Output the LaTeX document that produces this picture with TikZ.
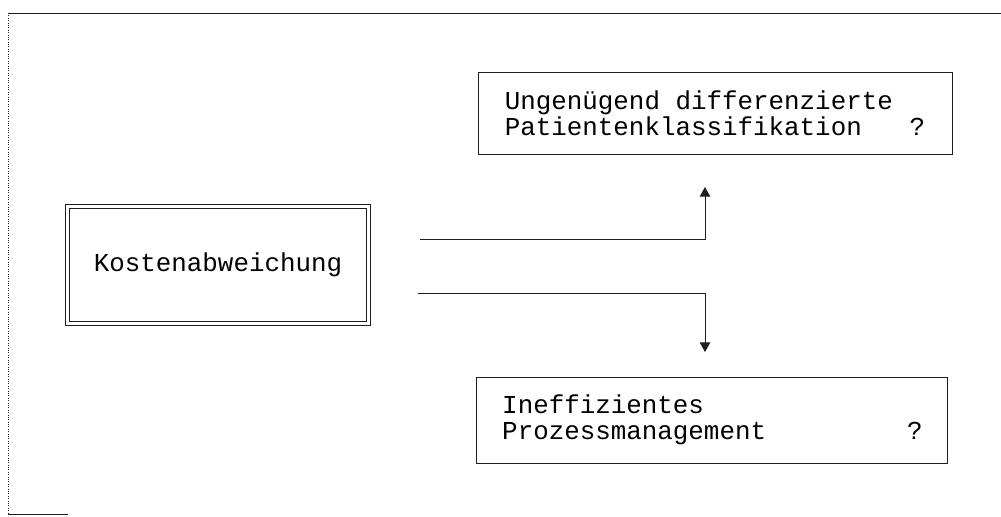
\documentclass[tikz,border=0pt]{standalone}
\usepackage{fontspec}
\setmonofont{Liberation Mono}
\usepackage{tikz}
\usetikzlibrary{arrows.meta}
\definecolor{ink}{RGB}{30,30,30}

\begin{document}
\begin{tikzpicture}[
  font=\ttfamily\fontsize{18.4}{18.8}\selectfont,
  box/.style={draw=ink, line width=0.7pt, align=left, inner sep=0pt},
  cause/.style={box, text width=299pt},
  arr/.style={-{Triangle[length=0.24cm,width=0.26cm]}, draw=ink, line width=0.7pt},
]
  \useasboundingbox (0,0) rectangle (25.025,-12.9);

  % Frame of the page
  \draw[ink, line width=0.6pt] (0.2,-0.325) -- (25.025,-0.325);
  \draw[ink, line width=0.7pt, densely dotted] (0.2,-0.325) -- (0.2,-12.85);
  \draw[ink, line width=0.6pt] (0.2,-12.85) -- (1.7,-12.85);

  % Boxes
  \node[box, double, double distance=1.6pt, minimum width=7.52cm, minimum height=2.92cm]
    (kosten) at (5.45,-6.625) {Kostenabweichung};
  \node[cause, minimum width=11.85cm, minimum height=2.05cm] (klass) at (17.875,-2.825)
    {Ungenügend\hspace{0.6em}differenzierte\\Patientenklassifikation\hfill?};
  \node[cause, minimum width=11.775cm, minimum height=2.15cm] (prozess) at (17.81,-10.5)
    {Ineffizientes\\Prozessmanagement\hfill?};

  % Free ends of the connectors
  \coordinate (ausK) at (10.5,-5.975);
  \coordinate (ausP) at (10.45,-7.325);
  \coordinate (zuK) at (17.625,-4.675);
  \coordinate (zuP) at (17.625,-8.8);

  % Connectors
  \draw[arr] (ausK) -| (zuK);
  \draw[arr] (ausP) -| (zuP);
\end{tikzpicture}
\end{document}
